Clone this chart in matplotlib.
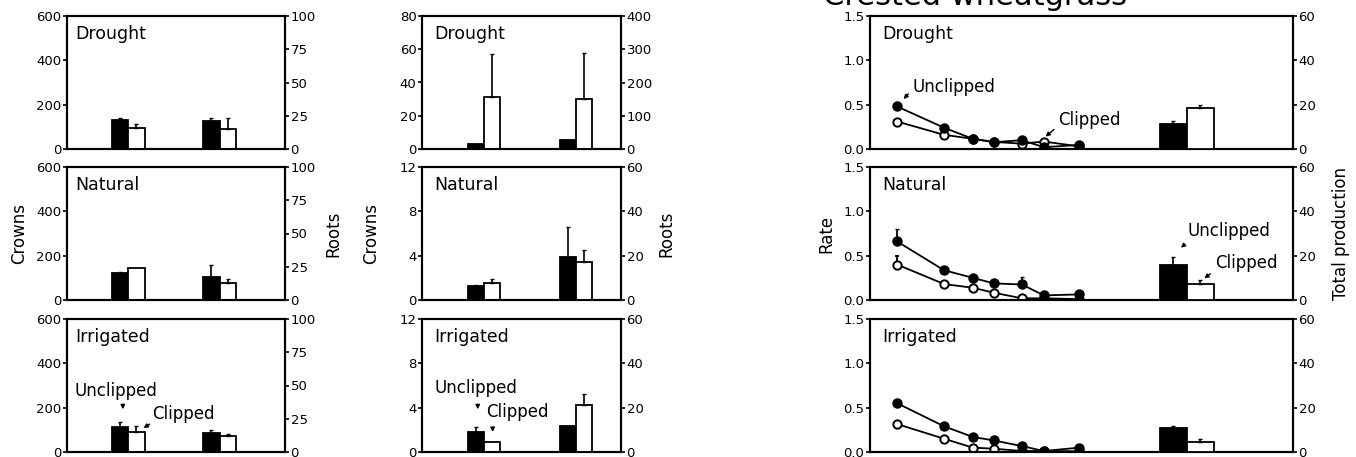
import numpy as np
import matplotlib
matplotlib.use('Agg')
import matplotlib.pyplot as plt

plt.rcParams['font.family'] = 'DejaVu Sans'
plt.rcParams['axes.linewidth'] = 1.5

treatments = ['Drought', 'Natural', 'Irrigated']

# left column: crowns (left axis 0-600), roots right axis
c1_black = [[130, 127], [123, 102], [113, 86]]
c1_black_err = [[12, 11], [5, 58], [23, 12]]
c1_white = [[93, 88], [143, 75], [90, 71]]
c1_white_err = [[22, 50], [0, 18], [26, 12]]

# middle column
c2_black = [[3.0, 5.4], [1.25, 3.85], [1.8, 2.35]]
c2_black_err = [[0, 0], [0.12, 2.7], [0.5, 0]]
c2_white = [[31.4, 30.2], [1.55, 3.4], [0.9, 4.2]]
c2_white_err = [[25.6, 27.8], [0.35, 1.1], [0, 1.0]]
c2_left_max = [80, 12, 12]
c2_left_ticks = [[0, 20, 40, 60, 80], [0, 4, 8, 12], [0, 4, 8, 12]]
c2_right_max = [400, 60, 60]
c2_right_ticks = [[0, 100, 200, 300, 400], [0, 20, 40, 60], [0, 20, 40, 60]]

# right column: rates over time plus total production bars
time = [6.4, 17.5, 24.3, 29.3, 35.9, 41.1, 49.4]
rate_unclipped = [[0.48, 0.24, 0.115, 0.076, 0.10, 0.02, 0.046],
                  [0.66, 0.336, 0.25, 0.187, 0.175, 0.052, 0.063],
                  [0.55, 0.29, 0.17, 0.13, 0.067, 0.011, 0.049]]
rate_clipped = [[0.31, 0.16, 0.115, 0.08, 0.06, 0.084, 0.03],
                [0.40, 0.18, 0.138, 0.082, 0.019, 0.019, 0.01],
                [0.315, 0.15, 0.049, 0.037, 0.011, 0.011, 0.008]]
rate_unclipped_err = [[0, 0, 0, 0, 0, 0, 0],
                      [0.14, 0, 0, 0, 0.085, 0, 0],
                      [0, 0, 0, 0, 0, 0, 0]]
rate_clipped_err = [[0, 0, 0, 0, 0, 0, 0],
                    [0.10, 0, 0, 0, 0, 0, 0],
                    [0, 0, 0, 0, 0, 0, 0]]
total_unclipped = [11.4, 15.7, 10.7]
total_unclipped_err = [1.2, 3.6, 1.1]
total_clipped = [18.5, 7.3, 4.5]
total_clipped_err = [1.3, 1.5, 1.2]

W, H = 1356, 457
fig = plt.figure(figsize=(W / 100, H / 100), dpi=100)

rows = [(16, 149), (167, 300), (319, 452)]
cols = [(67, 285), (422, 621), (870, 1293)]


def add_ax(r, c):
    t, b = rows[r]
    l, rr = cols[c]
    return fig.add_axes([l / W, (H - b) / H, (rr - l) / W, (b - t) / H])


def style(ax):
    ax.tick_params(axis='y', direction='out', length=3, width=1.2, labelsize=9.5, pad=1)
    ax.tick_params(axis='x', bottom=False, labelbottom=False)
    for s in ax.spines.values():
        s.set_linewidth(1.5)


def bars(ax, centers, w, black, berr, white, werr):
    for i, cx in enumerate(centers):
        xb, xw = cx - w / 2, cx + w / 2
        ax.bar(xb, black[i], w, color='black', edgecolor='black', lw=1.3, zorder=3)
        ax.bar(xw, white[i], w, color='white', edgecolor='black', lw=1.3, zorder=3)
        if berr[i] > 0:
            ax.errorbar(xb, black[i], yerr=[[0], [berr[i]]], color='black', lw=1.2, capsize=1.5, zorder=4)
        if werr[i] > 0:
            ax.errorbar(xw, white[i], yerr=[[0], [werr[i]]], color='black', lw=1.2, capsize=1.5, zorder=4)


for r, name in enumerate(treatments):
    # column 1
    ax = add_ax(r, 0)
    ax.set_xlim(0, 1)
    ax.set_ylim(0, 600)
    ax.set_yticks([0, 200, 400, 600])
    bars(ax, [0.281, 0.70], 0.075, c1_black[r], c1_black_err[r], c1_white[r], c1_white_err[r])
    style(ax)
    ax2 = ax.twinx()
    ax2.set_ylim(0, 100)
    ax2.set_yticks([0, 25, 50, 75, 100])
    style(ax2)
    ax.text(0.04, 0.93, name, transform=ax.transAxes, fontsize=12.5, va='top')
    if r == 1:
        ax.set_ylabel('Crowns', fontsize=12, labelpad=6)
        ax2.set_ylabel('Roots', fontsize=12, labelpad=6)
    if r == 2:
        ax.text(0.035, 0.42, 'Unclipped', transform=ax.transAxes, fontsize=12)
        ax.annotate('', xy=(0.256, 0.30), xytext=(0.256, 0.38), xycoords='axes fraction',
                    arrowprops=dict(arrowstyle='-|>', lw=1, color='black', mutation_scale=6))
        ax.text(0.39, 0.25, 'Clipped', transform=ax.transAxes, fontsize=12)
        ax.annotate('', xy=(0.34, 0.17), xytext=(0.39, 0.22), xycoords='axes fraction',
                    arrowprops=dict(arrowstyle='-|>', lw=1, color='black', mutation_scale=6))

    # column 2
    ax = add_ax(r, 1)
    ax.set_xlim(0, 1)
    ax.set_ylim(0, c2_left_max[r])
    ax.set_yticks(c2_left_ticks[r])
    bars(ax, [0.311, 0.772], 0.08, c2_black[r], c2_black_err[r], c2_white[r], c2_white_err[r])
    style(ax)
    ax2 = ax.twinx()
    ax2.set_ylim(0, c2_right_max[r])
    ax2.set_yticks(c2_right_ticks[r])
    style(ax2)
    ax.text(0.06, 0.93, name, transform=ax.transAxes, fontsize=12.5, va='top')
    if r == 1:
        ax.set_ylabel('Crowns', fontsize=12, labelpad=14)
        ax2.set_ylabel('Roots', fontsize=12, labelpad=10)
    if r == 2:
        ax.text(0.065, 0.44, 'Unclipped', transform=ax.transAxes, fontsize=12)
        ax.annotate('', xy=(0.28, 0.30), xytext=(0.28, 0.38), xycoords='axes fraction',
                    arrowprops=dict(arrowstyle='-|>', lw=1, color='black', mutation_scale=6))
        ax.text(0.32, 0.26, 'Clipped', transform=ax.transAxes, fontsize=12)
        ax.annotate('', xy=(0.355, 0.13), xytext=(0.355, 0.20), xycoords='axes fraction',
                    arrowprops=dict(arrowstyle='-|>', lw=1, color='black', mutation_scale=6))

    # column 3
    ax = add_ax(r, 2)
    ax.set_xlim(0, 100)
    ax.set_ylim(0, 1.5)
    ax.set_yticks([0, 0.5, 1.0, 1.5])
    ax.set_yticklabels(['0.0', '0.5', '1.0', '1.5'])
    ax.errorbar(time, rate_clipped[r], yerr=[np.zeros(7), rate_clipped_err[r]], color='black',
                lw=1.3, marker='o', ms=6, mfc='white', mec='black', mew=1.4, capsize=1.5, zorder=3)
    ax.errorbar(time, rate_unclipped[r], yerr=[np.zeros(7), rate_unclipped_err[r]], color='black',
                lw=1.3, marker='o', ms=6.5, mfc='black', mec='black', capsize=1.5, zorder=4)
    style(ax)
    ax2 = ax.twinx()
    ax2.set_ylim(0, 60)
    ax2.set_yticks([0, 20, 40, 60])
    bars(ax2, [74.9], 6.4, [total_unclipped[r]], [total_unclipped_err[r]],
         [total_clipped[r]], [total_clipped_err[r]])
    style(ax2)
    ax.text(0.03, 0.93, name, transform=ax.transAxes, fontsize=12.5, va='top')
    if r == 1:
        ax.set_ylabel('Rate', fontsize=12, labelpad=6)
        ax2.set_ylabel('Total production', fontsize=12, labelpad=12)
        ax2.text(0.75, 0.48, 'Unclipped', transform=ax2.transAxes, fontsize=12)
        ax2.annotate('', xy=(0.73, 0.38), xytext=(0.745, 0.42), xycoords='axes fraction',
                     arrowprops=dict(arrowstyle='-|>', lw=1, color='black', mutation_scale=6))
        ax2.text(0.815, 0.24, 'Clipped', transform=ax2.transAxes, fontsize=12)
        ax2.annotate('', xy=(0.785, 0.15), xytext=(0.81, 0.21), xycoords='axes fraction',
                     arrowprops=dict(arrowstyle='-|>', lw=1, color='black', mutation_scale=6))
    if r == 0:
        ax.text(0.1, 0.43, 'Unclipped', transform=ax.transAxes, fontsize=12)
        ax.annotate('', xy=(0.075, 0.36), xytext=(0.095, 0.43), xycoords='axes fraction',
                    arrowprops=dict(arrowstyle='-|>', lw=1, color='black', mutation_scale=6))
        ax.text(0.445, 0.18, 'Clipped', transform=ax.transAxes, fontsize=12)
        ax.annotate('', xy=(0.41, 0.08), xytext=(0.44, 0.16), xycoords='axes fraction',
                    arrowprops=dict(arrowstyle='-|>', lw=1, color='black', mutation_scale=6))

fig.text(975 / W, 1 - 5 / H, 'Crested wheatgrass', ha='center', va='baseline', fontsize=22)

fig.savefig('out.png', dpi=100)
